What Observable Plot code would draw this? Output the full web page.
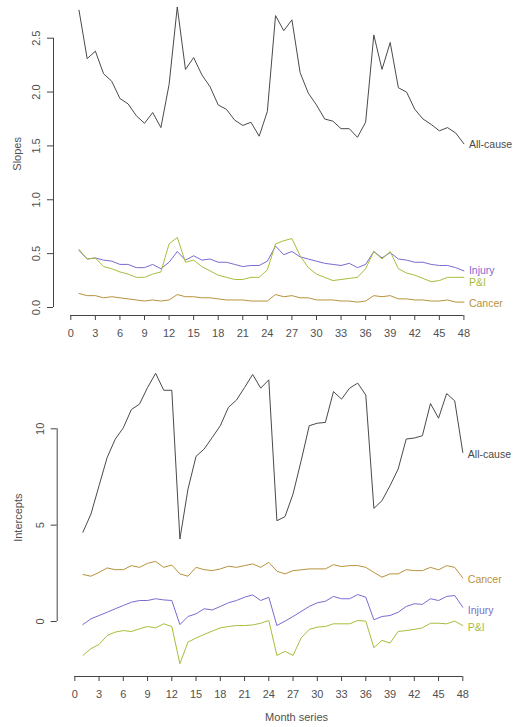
<!DOCTYPE html>
<html><head><meta charset="utf-8">
<script src="https://cdn.jsdelivr.net/npm/d3@7"></script>
<script src="https://cdn.jsdelivr.net/npm/@observablehq/plot@0.6"></script>
<style>body{margin:0;background:#fff} svg{display:block}</style>
</head><body><div id="chart"></div>
<script>
const months = d3.range(1, 49);
const seriesNames = ["All-cause", "Injury", "P&I", "Cancer"];
const seriesColors = ["#4a4a4a", "#7b6bd0", "#a9bc3c", "#b8923c"];
const xTicks = d3.range(0, 49, 3);
const slopeTicks = [0, 0.5, 1, 1.5, 2, 2.5];
const interceptTicks = [0, 5, 10];

const slopeAll = [2.76,2.31,2.38,2.17,2.10,1.94,1.89,1.78,1.71,1.81,1.67,2.07,2.79,2.21,2.32,2.16,2.05,1.88,1.84,1.74,1.69,1.72,1.59,1.82,2.71,2.57,2.67,2.18,1.99,1.88,1.75,1.73,1.66,1.66,1.58,1.72,2.53,2.21,2.46,2.04,2.00,1.84,1.75,1.70,1.64,1.67,1.62,1.52];
const slopeInjury = [0.53,0.45,0.46,0.44,0.43,0.40,0.40,0.37,0.37,0.40,0.36,0.42,0.52,0.44,0.48,0.44,0.45,0.42,0.42,0.40,0.38,0.39,0.39,0.43,0.57,0.49,0.52,0.47,0.45,0.43,0.41,0.40,0.39,0.41,0.37,0.40,0.52,0.46,0.51,0.45,0.44,0.42,0.42,0.40,0.39,0.39,0.37,0.34];
const slopePI = [0.54,0.45,0.46,0.38,0.36,0.33,0.31,0.28,0.28,0.31,0.33,0.59,0.65,0.42,0.44,0.38,0.34,0.30,0.28,0.26,0.26,0.28,0.28,0.35,0.59,0.62,0.64,0.48,0.37,0.31,0.28,0.25,0.26,0.27,0.28,0.36,0.52,0.45,0.52,0.36,0.32,0.30,0.27,0.24,0.25,0.28,0.28,0.28];
const slopeCancer = [0.13,0.11,0.11,0.09,0.10,0.09,0.08,0.07,0.06,0.07,0.06,0.07,0.12,0.10,0.10,0.09,0.09,0.08,0.07,0.07,0.07,0.06,0.06,0.06,0.12,0.10,0.11,0.09,0.09,0.07,0.07,0.07,0.06,0.06,0.05,0.06,0.11,0.10,0.11,0.08,0.08,0.07,0.07,0.06,0.06,0.07,0.05,0.05];

const interceptAll = [4.63,5.58,7.05,8.51,9.46,10.05,11.0,11.28,12.14,12.88,12.0,12.0,4.28,6.87,8.57,8.95,9.55,10.16,11.11,11.49,12.14,12.82,12.11,12.54,5.23,5.44,6.62,8.34,10.16,10.29,10.33,11.93,11.54,12.11,12.37,11.75,5.87,6.27,7.05,7.91,9.47,9.52,9.64,11.31,10.55,11.83,11.45,8.77];
const interceptInjury = [-0.16,0.14,0.31,0.48,0.66,0.83,1.00,1.09,1.09,1.18,1.12,1.09,-0.16,0.26,0.40,0.66,0.60,0.78,0.97,1.09,1.26,1.38,1.09,1.26,-0.21,0.02,0.26,0.52,0.78,0.97,1.05,1.30,1.18,1.18,1.40,1.26,0.09,0.26,0.31,0.48,0.78,0.92,0.89,1.18,1.09,1.30,1.35,0.74];
const interceptPI = [-1.76,-1.41,-1.19,-0.73,-0.55,-0.47,-0.52,-0.38,-0.26,-0.33,-0.12,-0.26,-2.19,-1.07,-0.86,-0.67,-0.50,-0.33,-0.26,-0.21,-0.21,-0.18,-0.09,0.05,-1.76,-1.55,-1.76,-0.85,-0.41,-0.29,-0.26,-0.12,-0.12,-0.12,0.05,0.02,-1.36,-0.98,-1.12,-0.52,-0.47,-0.41,-0.33,-0.09,-0.09,-0.12,0.02,-0.21];
const interceptCancer = [2.44,2.35,2.55,2.78,2.69,2.69,2.90,2.81,3.02,3.12,2.81,2.93,2.47,2.35,2.81,2.69,2.64,2.73,2.87,2.81,2.90,2.99,2.81,3.07,2.61,2.47,2.64,2.68,2.73,2.73,2.73,2.95,2.85,2.90,2.90,2.81,2.55,2.30,2.47,2.47,2.69,2.64,2.64,2.81,2.68,2.90,2.81,2.26];

function tidy(arrs) {
  return seriesNames.flatMap((s, k) => arrs[k].map((v, i) => ({month: months[i], value: v, series: s})));
}

// R-style 4% axis extension
const span = d3.max(months) - d3.min(months);
const xDomain = [d3.min(months) - 0.04 * span, d3.max(months) + 0.04 * span];
const axisColor = "#444";
const textColor = "#505050";

function panel(o) {
  const marks = [
    Plot.ruleX([xDomain[0]], {y1: o.yTicks[0], y2: o.yTicks[o.yTicks.length - 1], dx: -o.insetLeft, stroke: axisColor}),
    Plot.ruleY([0], {x1: xTicks[0], x2: xTicks[xTicks.length - 1], dy: o.insetBottom, stroke: axisColor}),
    Plot.axisX({ticks: xTicks, tickSize: 5, tickPadding: 9, label: null, color: axisColor, fill: textColor}),
    Plot.axisY({ticks: o.yTicks, tickSize: 6, tickFormat: () => "", label: null, color: axisColor}),
    Plot.text(o.yTicks, {y: d => d, text: o.yFmt, frameAnchor: "left", rotate: -90, dx: -17, textAnchor: "middle", lineAnchor: "middle", fill: textColor}),
    Plot.text([o.ylabel], {frameAnchor: "left", rotate: -90, dx: o.ylabelDx, dy: o.ylabelDy, textAnchor: "middle", lineAnchor: "middle", fill: textColor}),
    Plot.line(o.data, {x: "month", y: "value", z: "series", stroke: "series", strokeWidth: 1})
  ];
  seriesNames.forEach((s, k) => {
    marks.push(Plot.text(o.data.filter(d => d.series === s), Plot.selectLast({x: "month", y: "value", text: "series", fill: "series", textAnchor: "start", dx: 5, dy: o.labelDy[k], fontSize: 10.5})));
  });
  if (o.xlabel) marks.push(Plot.text([o.xlabel], {frameAnchor: "bottom", dx: 29, dy: 41, lineAnchor: "middle", fill: textColor}));
  return Plot.plot({
    width: 516, height: o.height,
    marginLeft: o.marginLeft, marginRight: o.marginRight, marginTop: o.marginTop, marginBottom: o.marginBottom,
    style: {fontFamily: "'Liberation Sans', Arial, sans-serif", fontSize: "11px", color: textColor, background: "#fff"},
    x: {domain: xDomain, insetLeft: o.insetLeft},
    y: {domain: [o.yTicks[0], o.yTicks[o.yTicks.length - 1]], insetBottom: o.insetBottom},
    color: {domain: seriesNames, range: seriesColors},
    marks
  });
}

const topPanel = panel({
  data: tidy([slopeAll, slopeInjury, slopePI, slopeCancer]),
  yTicks: slopeTicks, yFmt: d => d.toFixed(1), ylabel: "Slopes",
  height: 360, marginLeft: 53, marginRight: 37.2, marginTop: 37.7, marginBottom: 45,
  insetLeft: 10.1, insetBottom: 8, ylabelDx: -36, ylabelDy: -23,
  labelDy: [1, 0, 5, 1.5]
});
const bottomPanel = panel({
  data: tidy([interceptAll, interceptInjury, interceptPI, interceptCancer]),
  yTicks: interceptTicks, yFmt: d => String(d), ylabel: "Intercepts",
  height: 367, marginLeft: 56.7, marginRight: 38.5, marginTop: 68.3, marginBottom: 51,
  insetLeft: 10.5, insetBottom: 55, ylabelDx: -39, ylabelDy: -35,
  labelDy: [2, 3, 2, 2], xlabel: "Month series"
});
document.getElementById("chart").append(topPanel, bottomPanel);
</script>
</body></html>
